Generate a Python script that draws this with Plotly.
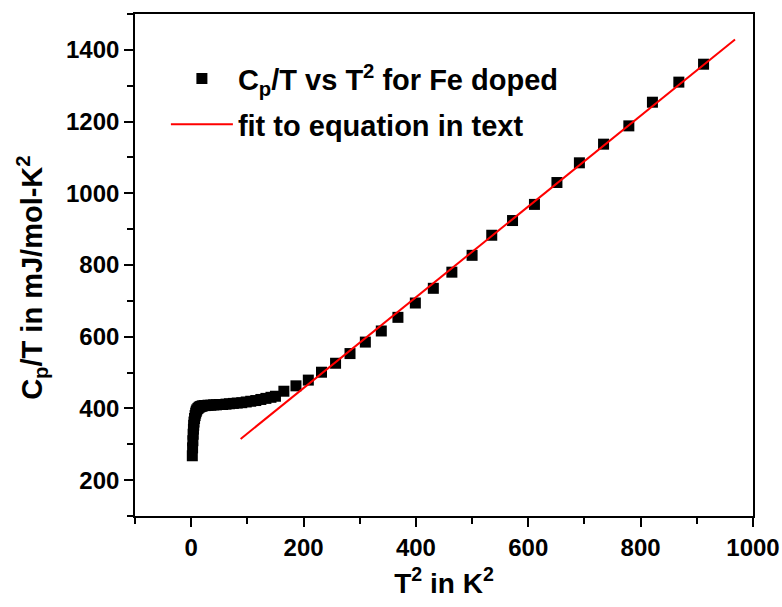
import plotly.graph_objects as go

# ---- data ----
t2_data = [2, 2.5, 3, 3.5, 4, 4.5, 5, 6, 7, 8, 9, 10, 12, 14, 16, 18, 20, 23, 26, 30,
           35, 40, 45, 50, 56, 62, 68, 75, 82, 90, 98, 106, 115, 124, 133, 142, 150,
           165, 186.5, 208.5, 232, 257, 282.7, 310, 338.4, 368, 399, 431, 464, 500,
           535, 572, 611, 651, 691, 734, 779, 821, 868, 912]
cpt_data = [268, 290, 310, 328, 342, 353, 362, 372, 380, 387, 392, 396, 400, 403, 405, 406, 407, 408, 408, 409,
            409, 410, 410, 411, 411, 412, 413, 414, 415, 416, 418, 420, 422, 425, 428, 431, 434,
            448, 463, 479, 501, 526, 553, 585, 616, 654, 694, 735, 780, 827,
            883, 924, 969, 1030, 1085, 1137, 1188, 1254, 1310, 1360]

fit_x = [88, 968]
fit_y = [315, 1429]

x_ticks = [0, 200, 400, 600, 800, 1000]
y_ticks = [200, 400, 600, 800, 1000, 1200, 1400]

FONT = "Liberation Sans, Arial, sans-serif"

fig = go.Figure()
fig.add_trace(go.Scatter(
    x=t2_data, y=cpt_data, mode="markers",
    name="C<sub>p</sub>/T vs T<sup>2</sup> for Fe doped",
    marker=dict(symbol="square", size=11, color="black", line=dict(width=0)),
    legendgroup="a",
))
fig.add_trace(go.Scatter(
    x=fit_x, y=fit_y, mode="lines",
    name="fit to equation in text",
    line=dict(color="#ff0000", width=2),
    legendgroup="b",
))

axis_common = dict(
    showline=True, linecolor="black", linewidth=1.6, mirror=True,
    showgrid=False, zeroline=False,
    ticks="outside", ticklen=9, tickwidth=1.5, tickcolor="black",
    tickfont=dict(family=FONT, size=24, color="black", weight="bold"),
)

fig.update_xaxes(
    range=[-100, 1000], tickvals=x_ticks, ticktext=[str(v) for v in x_ticks],
    minor=dict(ticks="outside", ticklen=6, tickwidth=1.5, tickcolor="black", dtick=100, tick0=0),
    title=dict(text="T<sup>2</sup> in K<sup>2</sup>", font=dict(family=FONT, size=28, color="black", weight="bold"), standoff=14),
    **axis_common,
)
fig.update_yaxes(
    range=[100, 1500], tickvals=y_ticks, ticktext=[str(v) for v in y_ticks],
    minor=dict(ticks="outside", ticklen=6, tickwidth=1.5, tickcolor="black", dtick=100, tick0=0),
    **axis_common,
)

# y-axis title placed as rotated text to match the reference position
fig.add_annotation(
    text="C<sub>p</sub>/T in mJ/mol-K<sup>2</sup>",
    xref="paper", yref="paper", x=-0.167, y=0.474,
    xanchor="center", yanchor="middle", textangle=-90, showarrow=False,
    font=dict(family=FONT, size=29, color="black", weight="bold"),
)

fig.update_layout(
    width=782, height=607,
    margin=dict(l=135, r=29, t=14, b=91, autoexpand=False),
    paper_bgcolor="white", plot_bgcolor="white",
    showlegend=True,
    legend=dict(
        x=0.05, y=0.922, xanchor="left", yanchor="top",
        bgcolor="rgba(0,0,0,0)", borderwidth=0,
        font=dict(family=FONT, size=29, color="black", weight="bold"),
        tracegroupgap=5, itemwidth=62,
    ),
)

fig.write_html("out.html")
